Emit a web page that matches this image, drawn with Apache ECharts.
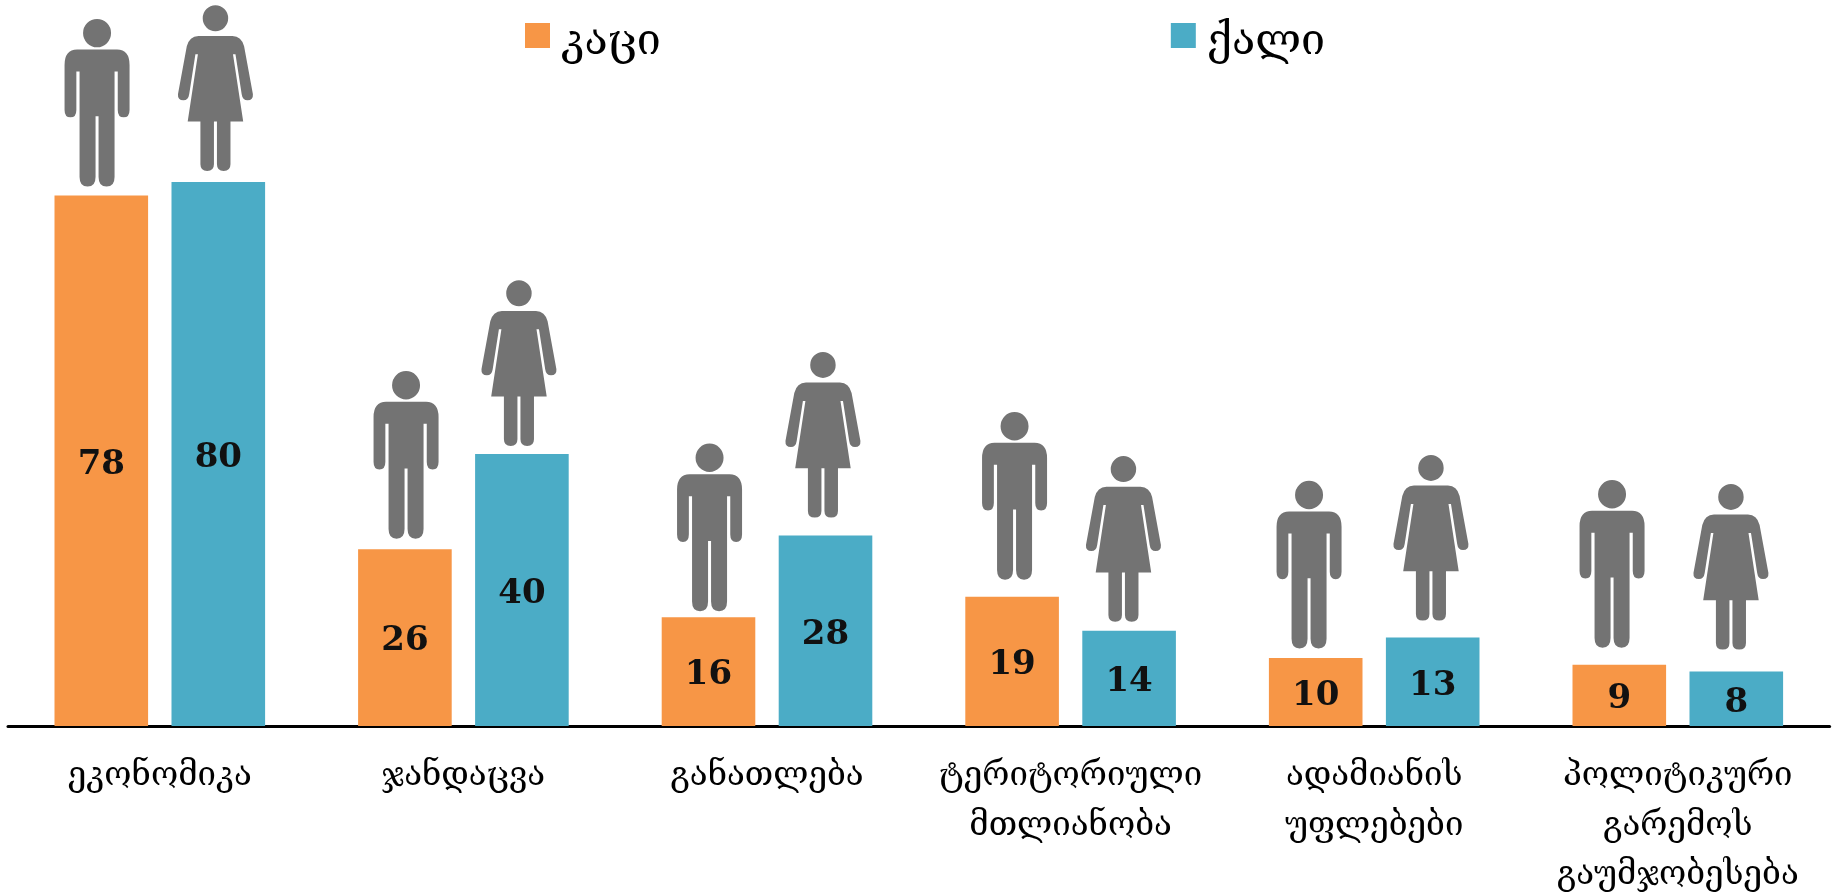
<!DOCTYPE html>
<html><head><meta charset="utf-8">
<style>html,body{margin:0;padding:0;background:#fff}#c{width:1835px;height:895px}</style>
<script src="https://cdn.jsdelivr.net/npm/echarts@6/dist/echarts.min.js"></script>
</head><body><div id="c"></div>
<script>
const categories = ['ეკონომიკა','ჯანდაცვა','განათლება','ტერიტორიული\nმთლიანობა','ადამიანის\nუფლებები','პოლიტიკური\nგარემოს\nგაუმჯობესება'];
const menValues = [78,26,16,19,10,9];
const womenValues = [80,40,28,14,13,8];
const menName = 'კაცი';
const womenName = 'ქალი';

// icon placement relative to the bar top (px): horizontal shift, and gap above the bar
const menIconDx = [-4.3,1.1,1,2.4,-6.7,-7.3];
const menIconGap = [9,10.5,6,17,9.5,17];
const womenIconDx = [-2.8,-2.9,-2.5,-5.6,-1.7,-5.3];
const womenIconGap = [11,8,18,9,17,22];

const MAN_PATH = 'M-14 14.2A14 14.2 0 1 1 14 14.2A14 14.2 0 1 1 -14 14.2Z M-20 30.7L20 30.7Q32.5 31 32.5 46L32.5 91Q32.5 98.4 26.6 98.4Q20.7 98.4 20.7 91L20.7 52.7L17.5 52.7L17.5 158Q17.5 167.7 9.5 167.7Q1.5 167.7 1.5 158L1.5 97.4L-1.5 97.4L-1.5 158Q-1.5 167.7 -9.5 167.7Q-17.5 167.7 -17.5 158L-17.5 52.7L-20.7 52.7L-20.7 91Q-20.7 98.4 -26.6 98.4Q-32.5 98.4 -32.5 91L-32.5 46Q-32.5 31 -20 30.7Z';
const WOMAN_PATH = 'M-12.7 13A12.7 13 0 1 1 12.7 13A12.7 13 0 1 1 -12.7 13Z M-17 30.7L17 30.7Q26 31 28.6 41L37.4 89Q37.8 95 32 95Q27 95 26.2 89L20 49L17.5 49L27.7 116.3L15 116.3L15 159Q15 165.7 8.2 165.7Q1.5 165.7 1.5 159L1.5 116.3L-1.5 116.3L-1.5 159Q-1.5 165.7 -8.2 165.7Q-15 165.7 -15 159L-15 116.3L-27.7 116.3L-17.5 49L-20 49L-26.2 89Q-27 95 -32 95Q-37.8 95 -37.4 89L-28.6 41Q-26 31 -17 30.7Z';

function iconSeries(values, dx, gap, path, w, h, side) {
  return {
    type: 'custom', silent: true, z: 5, clip: false,
    data: values.map((v, i) => [i, v, dx[i], gap[i]]),
    encode: { x: 0, y: 1 },
    renderItem(params, api) {
      const p = api.coord([api.value(0), api.value(1)]);
      const band = api.size([1, 0])[0];
      const cx = p[0] + side * band * 0.1925 + api.value(2);
      const bottom = p[1] - api.value(3);
      return { type: 'path',
        shape: { pathData: path, layout: 'cover', x: cx - w / 2, y: bottom - h, width: w, height: h },
        style: { fill: '#737373' } };
    }
  };
}
const numLabel = { show: true, position: 'inside', offset: [0, 4], color: '#111',
  fontFamily: 'DejaVu Serif', fontWeight: 'bold', fontSize: 34 };
const chart = echarts.init(document.getElementById('c'), null, { renderer: 'canvas' });
chart.setOption({
  animation: false,
  backgroundColor: '#fff',
  grid: { left: 8, right: 5.4, top: 46, bottom: 169, outerBoundsMode: 'none' },
  legend: { left: 525, top: 21, padding: 0, itemWidth: 25, itemHeight: 25, itemGap: 510, icon: 'rect',
    data: [menName, womenName],
    formatter: name => `{t|${name}}`,
    textStyle: { fontFamily: 'DejaVu Serif', fontSize: 43, color: '#000',
      rich: { t: { fontFamily: 'DejaVu Serif', fontSize: 43, color: '#000', padding: [14,0,0,6] } } } },
  xAxis: { type: 'category', data: categories,
    axisTick: { show: false },
    axisLine: { lineStyle: { color: '#000', width: 3 } },
    axisLabel: { interval: 0, color: '#000', fontFamily: 'DejaVu Serif', fontSize: 33, lineHeight: 49.5, margin: 26 } },
  yAxis: { type: 'value', min: 0, max: 100, show: false, splitLine: { show: false } },
  series: [
    { name: menName, type: 'bar', data: menValues, barWidth: 93.6, barGap: '25%', itemStyle: { color: '#F79646' }, label: numLabel },
    { name: womenName, type: 'bar', data: womenValues, barWidth: 93.6, itemStyle: { color: '#4BACC6' }, label: numLabel },
    iconSeries(menValues, menIconDx, menIconGap, MAN_PATH, 65, 167.7, -1),
    iconSeries(womenValues, womenIconDx, womenIconGap, WOMAN_PATH, 75, 165.7, 1)
  ]
});
</script></body></html>
